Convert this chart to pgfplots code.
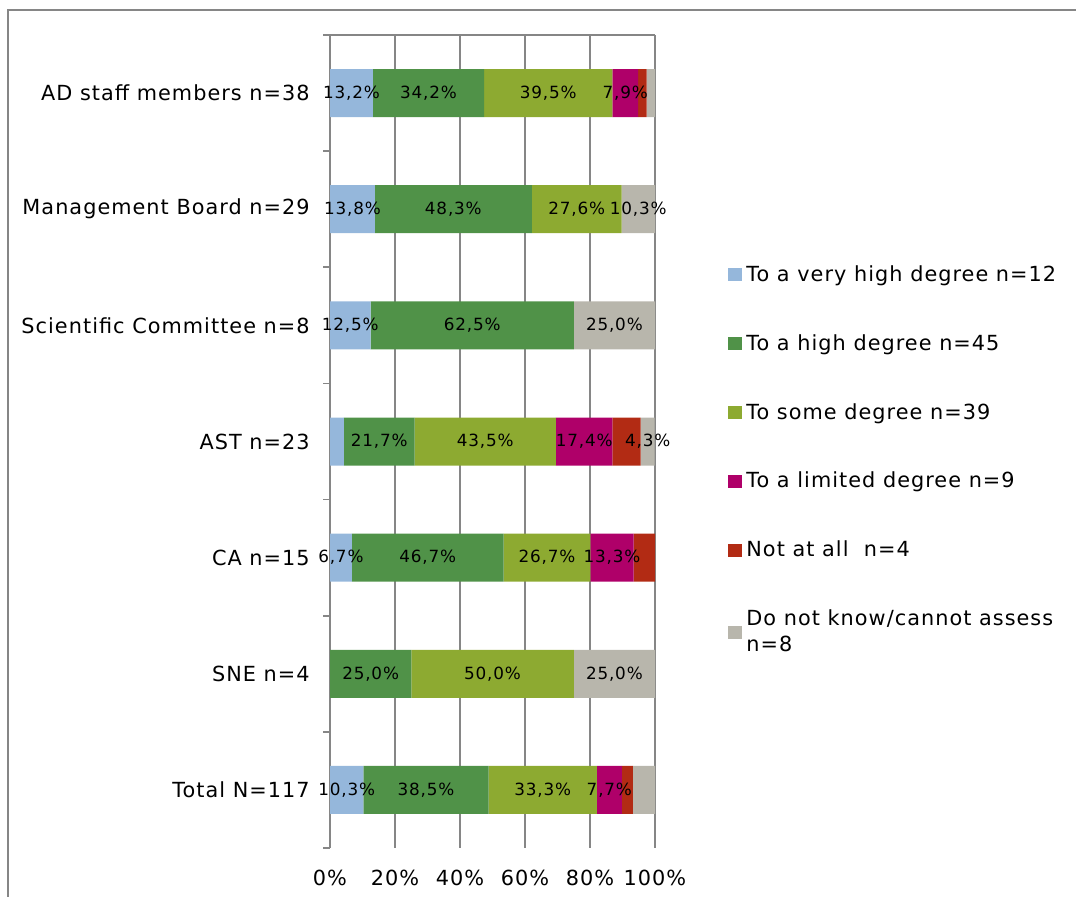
\documentclass[border=0pt]{standalone}
\usepackage{fontspec}
\setmainfont{DejaVu Sans}[LetterSpace=5]
\usepackage{pgfplots}
\pgfplotsset{compat=1.18}

\definecolor{cVeryHigh}{RGB}{149,183,219}
\definecolor{cHigh}{RGB}{80,146,72}
\definecolor{cSome}{RGB}{141,170,49}
\definecolor{cLimited}{RGB}{175,0,105}
\definecolor{cNot}{RGB}{178,43,20}
\definecolor{cDunno}{RGB}{184,182,172}
\definecolor{axgray}{RGB}{134,134,134}

\begin{document}
\fontsize{10.4pt}{13pt}\selectfont
\begin{tikzpicture}
\useasboundingbox (0,0) rectangle (538pt,448.5pt);
% outer chart frame (only top and left edges are in view)
\draw[axgray, line width=1pt] (4pt,0) -- (4pt,443.5pt) -- (538pt,443.5pt);
\begin{axis}[
  at={(165pt,24.5pt)}, anchor=south west,
  scale only axis, width=162.5pt, height=406.5pt,
  xbar stacked, bar width=24pt,
  xmin=0, xmax=100, ymin=-0.5, ymax=6.5, y dir=reverse,
  axis line style={draw=none},
  xmajorgrids, grid style={axgray, line width=0.8pt},
  xtick={0,20,...,100},
  xticklabels={0\%,20\%,40\%,60\%,80\%,100\%},
  /pgf/number format/assume math mode=true,
  xtick pos=bottom, ytick pos=left,
  xticklabel style={yshift=-7.5pt},
  ytick={0,...,6},
  yticklabels={AD staff members n=38, Management Board n=29, Scientific Committee n=8,
    AST n=23, CA n=15, SNE n=4, Total N=117},
  yticklabel style={xshift=-6.5pt},
  minor ytick={-0.5,0.5,...,6.5},
  major tick length=0pt, minor tick length=3.5pt, tick align=outside,
  minor tick style={axgray, line width=0.8pt},
  every axis plot/.append style={draw=none},
  point meta=explicit symbolic,
  nodes near coords,
  every node near coord/.append style={anchor=center, text=black,
    font=\fontsize{8.4pt}{10pt}\selectfont},
  legend image code/.code={\fill[#1] (0pt,-3.25pt) rectangle (7pt,3.25pt);},
  legend style={at={(axis description cs:1.2246,0.722)}, anchor=north west,
    draw=none, fill=none, inner sep=0pt, row sep=21pt,
    cells={anchor=west, align=left}},
  legend cell align=left,
  after end axis/.code={\draw[axgray, line width=0.8pt]
    (axis description cs:0,1) -- (axis description cs:1,1);},
]
\addplot[fill=cVeryHigh] table[x=v, y=y, meta=l] {
y v l
0 13.2 13,2\%
1 13.8 13,8\%
2 12.5 12,5\%
3 4.3 {}
4 6.7 6,7\%
5 0 {}
6 10.3 10,3\%
};
\addlegendentry{To a very high degree n=12}
\addplot[fill=cHigh] table[x=v, y=y, meta=l] {
y v l
0 34.2 34,2\%
1 48.3 48,3\%
2 62.5 62,5\%
3 21.7 21,7\%
4 46.7 46,7\%
5 25.0 25,0\%
6 38.5 38,5\%
};
\addlegendentry{To a high degree n=45}
\addplot[fill=cSome] table[x=v, y=y, meta=l] {
y v l
0 39.5 39,5\%
1 27.6 27,6\%
2 0 {}
3 43.5 43,5\%
4 26.7 26,7\%
5 50.0 50,0\%
6 33.3 33,3\%
};
\addlegendentry{To some degree n=39}
\addplot[fill=cLimited] table[x=v, y=y, meta=l] {
y v l
0 7.9 7,9\%
1 0 {}
2 0 {}
3 17.4 17,4\%
4 13.3 13,3\%
5 0 {}
6 7.7 7,7\%
};
\addlegendentry{To a limited degree n=9}
\addplot[fill=cNot] table[x=v, y=y, meta=l] {
y v l
0 2.6 {}
1 0 {}
2 0 {}
3 8.7 {}
4 6.7 {}
5 0 {}
6 3.4 {}
};
\addlegendentry{Not at all\ \ n=4}
\addplot[fill=cDunno] table[x=v, y=y, meta=l] {
y v l
0 2.6 {}
1 10.3 10,3\%
2 25.0 25,0\%
3 4.3 4,3\%
4 0 {}
5 25.0 25,0\%
6 6.8 {}
};
\addlegendentry{Do not know/cannot assess\\n=8}
\end{axis}
\end{tikzpicture}
\end{document}
